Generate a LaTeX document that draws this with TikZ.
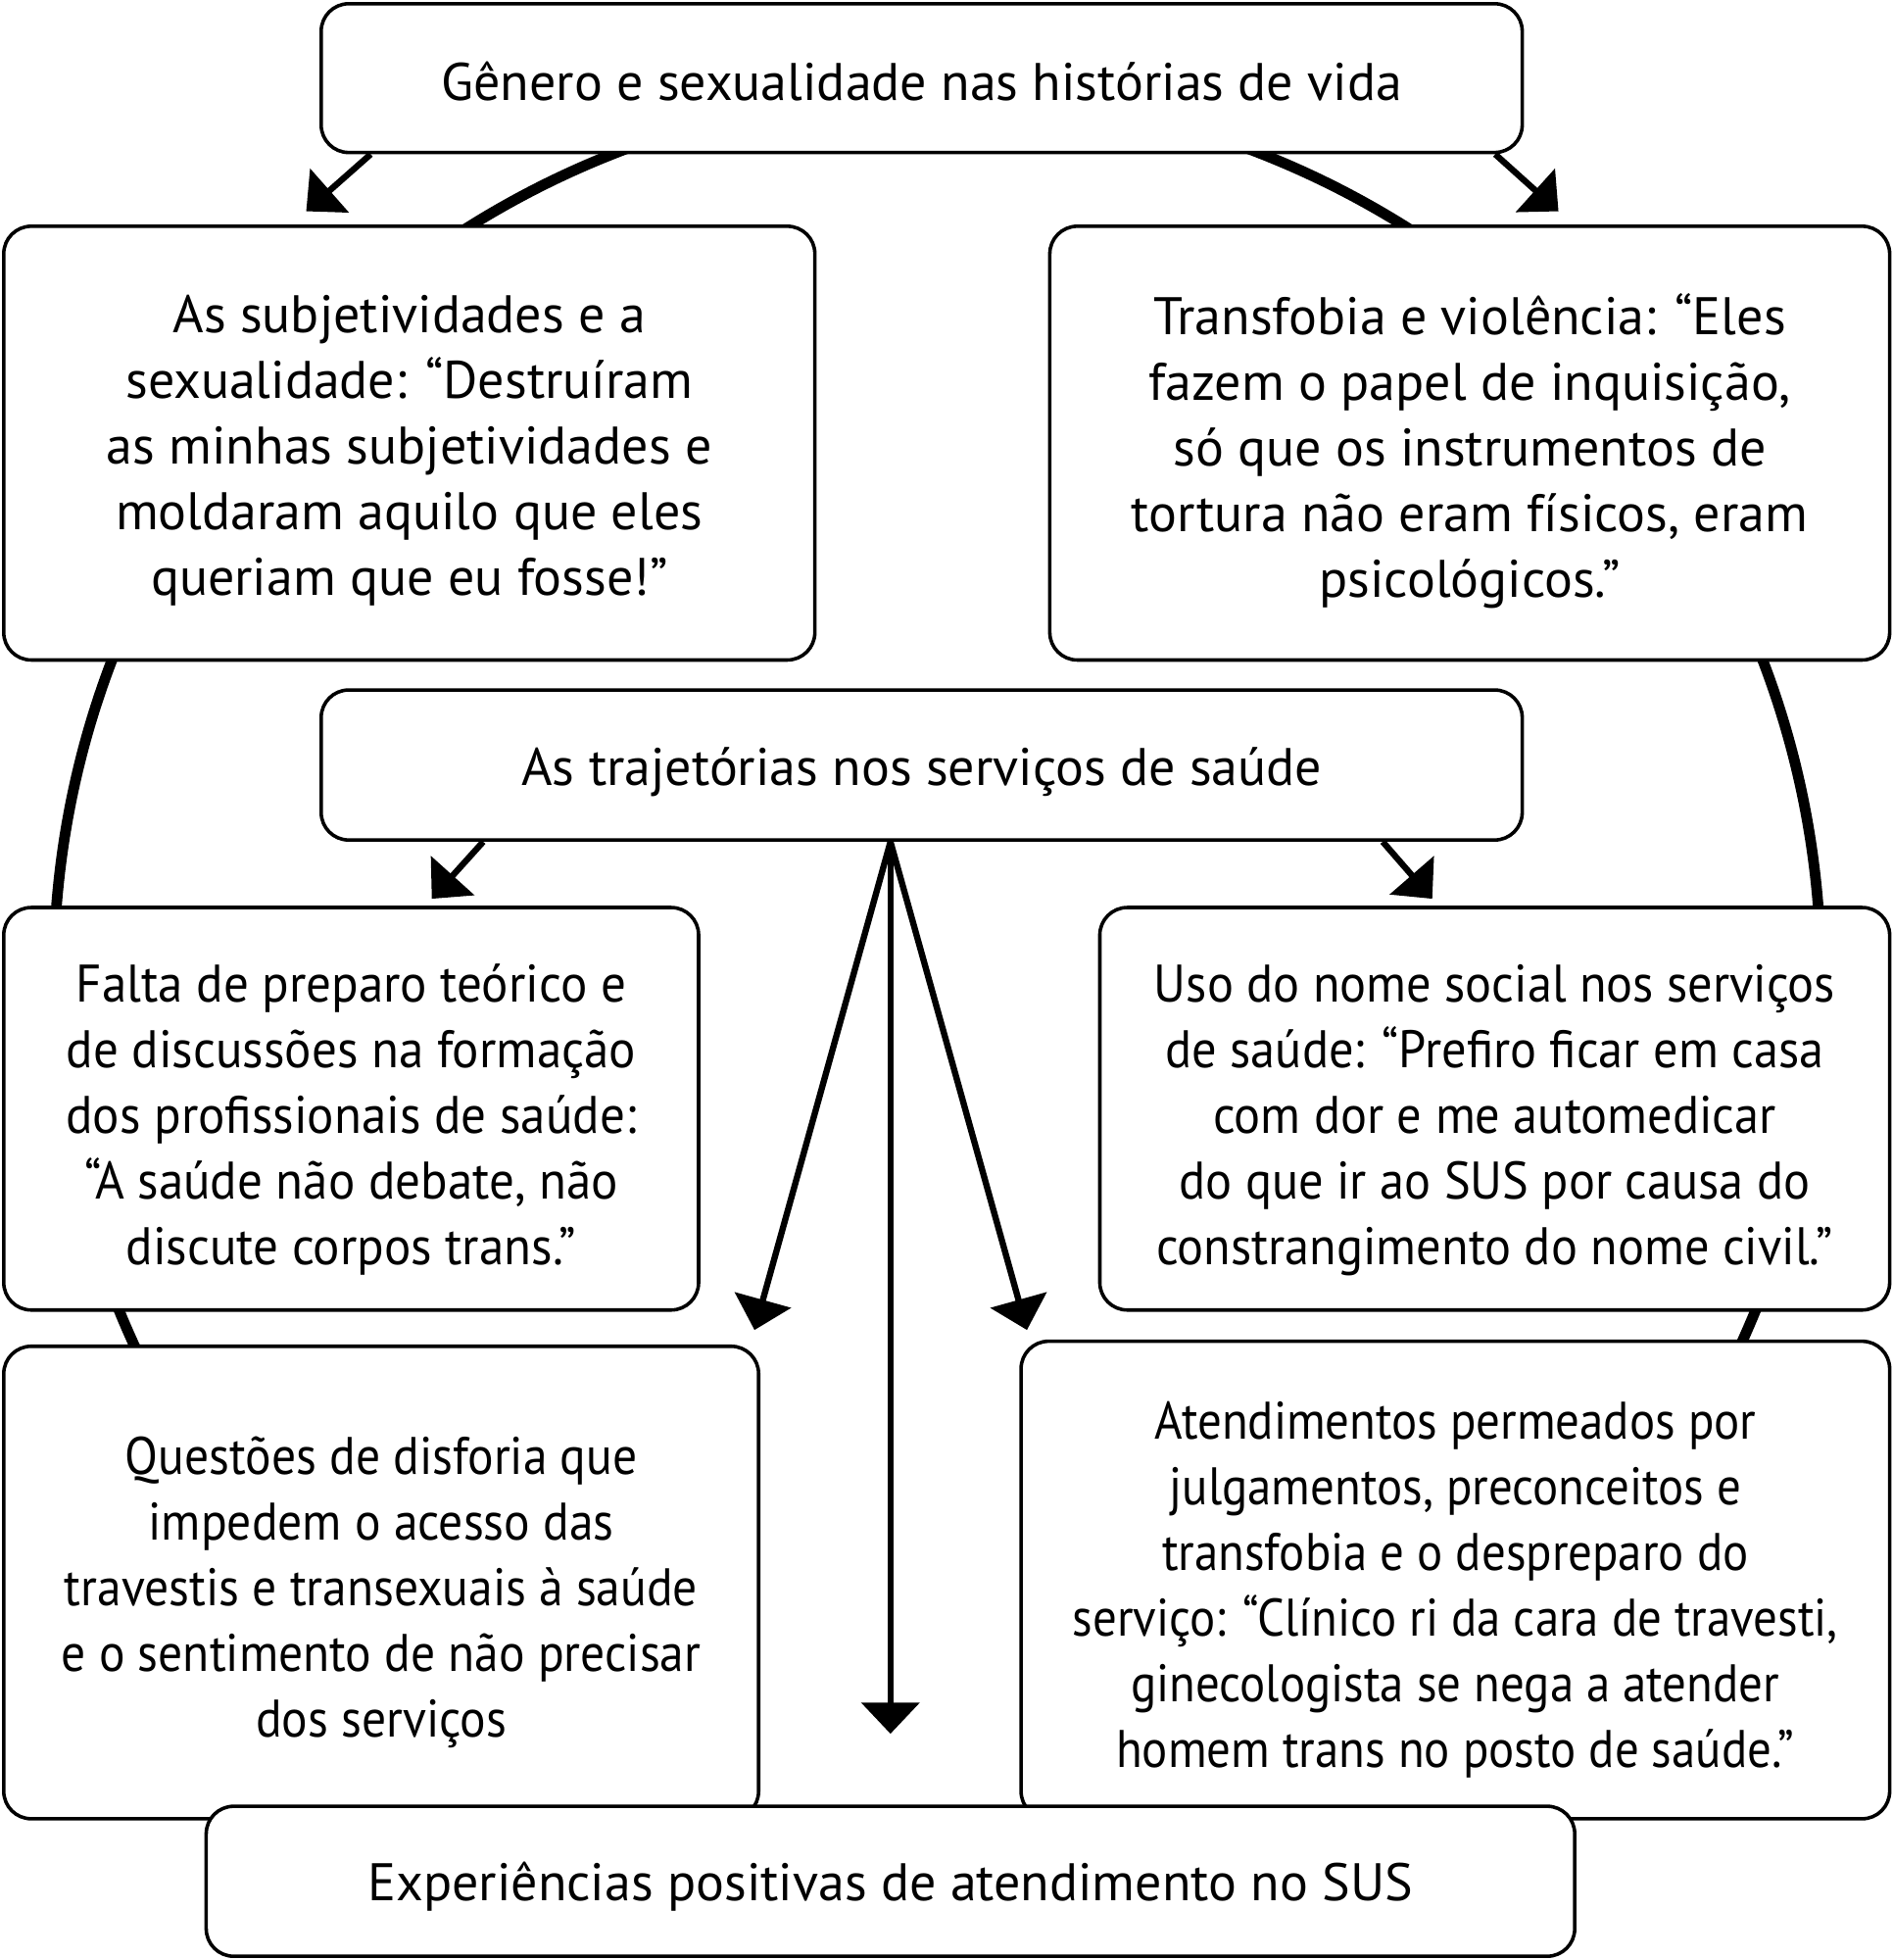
\documentclass[tikz,border=0pt]{standalone}
\usepackage{fontspec}
\setmainfont{PT Sans}
\newfontfamily\condA{PT Sans}[FakeStretch=0.946]
\newfontfamily\condB{PT Sans}[FakeStretch=0.934]
\newfontfamily\condC{PT Sans}[FakeStretch=0.918]
\newfontfamily\condD{PT Sans}[FakeStretch=0.906]
\usetikzlibrary{arrows.meta}
\begin{document}
\begin{tikzpicture}[x=1pt,y=-1pt,
  box/.style={draw, line width=2.8pt, rounded corners=22pt, fill=white, inner sep=0pt},
  txt/.style={inner sep=0pt, align=center, font=\fontsize{42.3}{52.5}\selectfont},
  arr/.style={line width=5pt, -{Triangle[length=25pt,width=46pt]}},
]
\useasboundingbox (0,0) rectangle (1514,1568);
\coordinate (cc) at (750,781);
\draw[line width=8.5pt] (cc) circle (707pt);

\node[box, minimum width=961pt, minimum height=119pt] (top) at (737.5,62.5) {};
\node[txt] (topt) at ([yshift=-3pt]top.center) {Gênero e sexualidade nas histórias de vida};
\node[box, minimum width=649pt, minimum height=347pt] (l1) at (327.5,354.5) {};
\node[txt] (l1t) at ([yshift=-6pt]l1.center) {As subjetividades e a\\sexualidade: “Destruíram\\as minhas subjetividades e\\moldaram aquilo que eles\\queriam que eu fosse!”};
\node[box, minimum width=672pt, minimum height=347pt] (r1) at (1176,354.5) {};
\node[txt] (r1t) at ([yshift=-6pt]r1.center) {Transfobia e violência: “Eles\\fazem o papel de inquisição,\\só que os instrumentos de\\tortura não eram físicos, eram\\psicológicos.”};
\node[box, minimum width=961pt, minimum height=120pt] (mid) at (737.5,612) {};
\node[txt] (midt) at ([yshift=-6pt]mid.center) {As trajetórias nos serviços de saúde};
\node[box, minimum width=556pt, minimum height=322pt] (l2) at (281,887) {};
\node[txt, font=\condA\fontsize{42.3}{52.5}\selectfont] (l2t) at ([yshift=-9pt]l2.center) {Falta de preparo teórico e\\de discussões na formação\\dos profissionais de saúde:\\“A saúde não debate, não\\discute corpos trans.”};
\node[box, minimum width=632pt, minimum height=322pt] (r2) at (1196,887) {};
\node[txt, font=\condB\fontsize{42.3}{52.5}\selectfont] (r2t) at ([yshift=-9pt]r2.center) {Uso do nome social nos serviços\\de saúde: “Prefiro ficar em casa\\com dor e me automedicar\\do que ir ao SUS por causa do\\constrangimento do nome civil.”};
\node[box, minimum width=604pt, minimum height=378pt] (l3) at (305,1266) {};
\node[txt, font=\condC\fontsize{42.3}{52.5}\selectfont] (l3t) at ([yshift=-8pt]l3.center) {Questões de disforia que\\impedem o acesso das\\travestis e transexuais à saúde\\e o sentimento de não precisar\\dos serviços};
\node[box, minimum width=695pt, minimum height=382pt] (r3) at (1164.5,1264) {};
\node[txt, font=\condD\fontsize{42.3}{52.5}\selectfont] (r3t) at ([yshift=-8pt]r3.center) {Atendimentos permeados por\\julgamentos, preconceitos e\\transfobia e o despreparo do\\serviço: “Clínico ri da cara de travesti,\\ginecologista se nega a atender\\homem trans no posto de saúde.”};
\node[box, minimum width=1095pt, minimum height=120pt] (bot) at (712.5,1505) {};
\node[txt] (bott) at ([yshift=-4pt]bot.center) {Experiências positivas de atendimento no SUS};

\coordinate (t1) at (245,169);
\coordinate (t2) at (1247,169);
\coordinate (t3) at (345.5,719);
\coordinate (t4) at (1146,719);
\coordinate (t5) at (603.7,1064);
\coordinate (t6) at (712.5,1387);
\coordinate (t7) at (821.7,1064);
\coordinate (m0) at ([xshift=-25pt]mid.south);

\draw[arr] ([xshift=41pt]top.south west) -- (t1);
\draw[arr] ([xshift=-23pt]top.south east) -- (t2);
\draw[arr] ([xshift=131pt]mid.south west) -- (t3);
\draw[arr] ([xshift=-113pt]mid.south east) -- (t4);
\draw[arr] (m0) -- (t5);
\draw[arr] (m0) -- (t6);
\draw[arr] (m0) -- (t7);
\end{tikzpicture}
\end{document}
